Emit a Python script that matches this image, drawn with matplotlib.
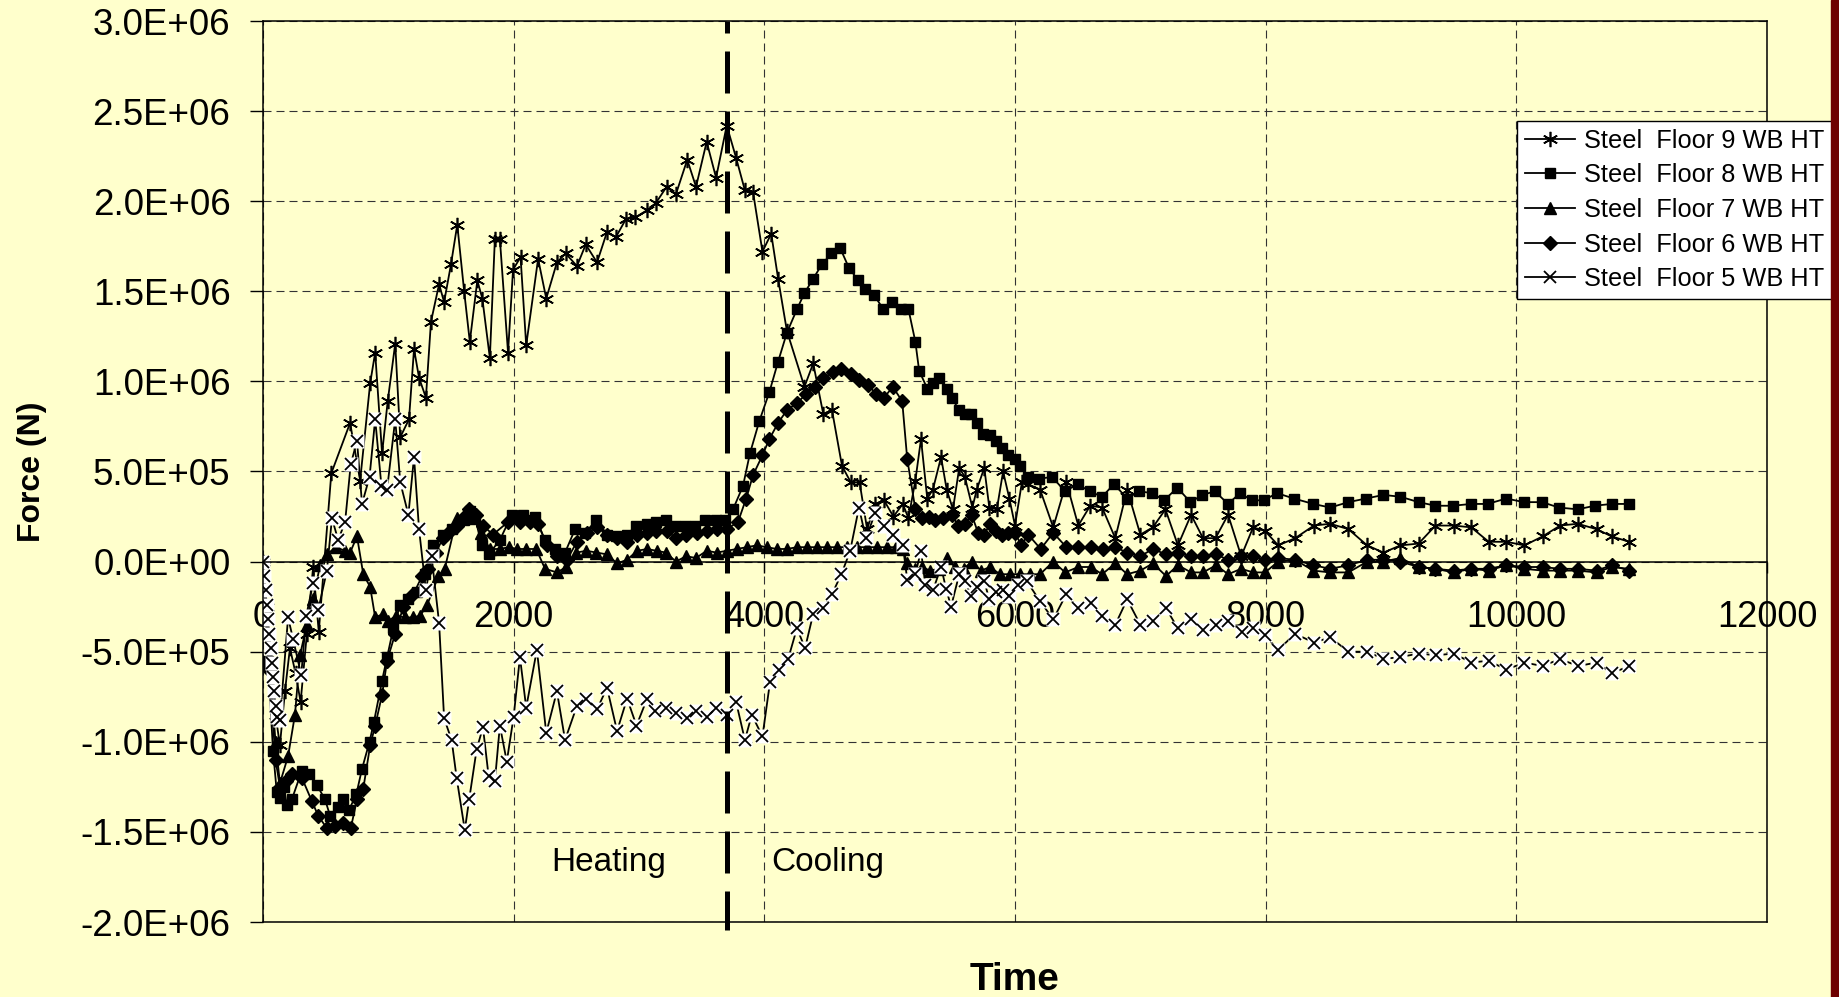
import matplotlib
matplotlib.use("Agg")
import matplotlib.pyplot as plt
from matplotlib.lines import Line2D
from matplotlib.patches import Rectangle

plt.rcParams['font.family'] = ['Liberation Sans', 'DejaVu Sans']

# ---- data (time in s, force in MN) ----
t9 = [0, 30, 60, 100, 135, 175, 215, 260, 300, 350, 400, 445, 545, 695, 775, 855, 895, 950, 995,
      1055, 1095, 1165, 1205, 1245, 1300, 1340, 1405, 1445, 1500, 1550, 1605, 1650, 1710, 1750,
      1810, 1850, 1890, 1955, 1995, 2055, 2100, 2195, 2260, 2345, 2415, 2505, 2575, 2665, 2745,
      2815, 2895, 2970, 3065, 3135, 3220, 3295, 3385, 3455, 3540, 3615, 3700, 3775, 3845, 3910,
      3985, 4055, 4110, 4180, 4320, 4390, 4470, 4540, 4620, 4690, 4760, 4820, 4885, 4955, 5030,
      5105, 5150, 5205, 5250, 5300, 5345, 5410, 5455, 5505, 5555, 5600, 5660, 5695, 5755, 5795,
      5855, 5905, 5955, 6000, 6055, 6105, 6200, 6305, 6410, 6505, 6600, 6695, 6800, 6895, 7000,
      7100, 7200, 7300, 7405, 7500, 7600, 7700, 7805, 7900, 7995, 8100, 8235, 8385, 8515, 8660,
      8810, 8940, 9075, 9220, 9355, 9500, 9640, 9780, 9920, 10065, 10210, 10350, 10490, 10640,
      10760, 10900]
f9 = [0, -0.25, -0.55, -0.85, -1.02, -0.72, -0.48, -0.62, -0.78, -0.40, -0.03, -0.39, 0.49, 0.77,
      0.45, 0.99, 1.16, 0.60, 0.89, 1.21, 0.69, 0.79, 1.18, 1.02, 0.91, 1.33, 1.54, 1.44, 1.65,
      1.87, 1.50, 1.22, 1.56, 1.46, 1.13, 1.79, 1.79, 1.16, 1.62, 1.69, 1.20, 1.68, 1.46, 1.66,
      1.71, 1.64, 1.76, 1.66, 1.83, 1.80, 1.90, 1.91, 1.95, 1.99, 2.08, 2.04, 2.23, 2.08, 2.33,
      2.13, 2.42, 2.24, 2.06, 2.05, 1.72, 1.82, 1.57, 1.28, 0.97, 1.10, 0.82, 0.84, 0.53, 0.44,
      0.44, 0.18, 0.32, 0.34, 0.25, 0.32, 0.24, 0.45, 0.68, 0.35, 0.40, 0.58, 0.40, 0.29, 0.52,
      0.47, 0.30, 0.40, 0.52, 0.30, 0.29, 0.50, 0.35, 0.20, 0.44, 0.43, 0.40, 0.19, 0.44, 0.20,
      0.31, 0.30, 0.13, 0.40, 0.15, 0.19, 0.29, 0.09, 0.26, 0.13, 0.13, 0.26, 0.03, 0.19, 0.17,
      0.09, 0.13, 0.20, 0.21, 0.18, 0.09, 0.05, 0.09, 0.10, 0.20, 0.20, 0.19, 0.11, 0.11, 0.09,
      0.14, 0.20, 0.21, 0.18, 0.14, 0.11]

t8 = [0, 40, 80, 110, 135, 165, 190, 230, 310, 370, 430, 495, 535, 600, 640, 685, 745, 790, 850,
      885, 950, 990, 1040, 1095, 1160, 1230, 1295, 1360, 1435, 1505, 1600, 1650, 1690, 1745, 1800,
      1890, 1985, 2075, 2170, 2250, 2330, 2410, 2490, 2570, 2660, 2745, 2815, 2905, 2980, 3065,
      3135, 3215, 3290, 3370, 3450, 3530, 3615, 3690, 3750, 3830, 3885, 3960, 4040, 4110, 4180,
      4260, 4320, 4390, 4460, 4535, 4605, 4675, 4750, 4805, 4875, 4950, 5020, 5090, 5150, 5205,
      5235, 5300, 5345, 5395, 5455, 5500, 5550, 5600, 5650, 5695, 5745, 5800, 5850, 5895, 5945,
      6000, 6040, 6100, 6195, 6295, 6400, 6500, 6595, 6695, 6790, 6895, 6990, 7095, 7190, 7295,
      7400, 7495, 7595, 7700, 7795, 7890, 7985, 8090, 8225, 8380, 8515, 8660, 8800, 8940, 9075,
      9220, 9355, 9495, 9640, 9770, 9920, 10060, 10205, 10340, 10490, 10625, 10760, 10900]
f8 = [0, -0.55, -1.05, -1.28, -1.31, -1.25, -1.35, -1.32, -1.16, -1.18, -1.24, -1.32, -1.41, -1.36,
      -1.32, -1.38, -1.29, -1.15, -1.00, -0.89, -0.66, -0.53, -0.37, -0.24, -0.21, -0.17, -0.07,
      0.09, 0.15, 0.18, 0.23, 0.28, 0.25, 0.09, 0.04, 0.12, 0.26, 0.26, 0.25, 0.12, 0.07, 0.05,
      0.18, 0.16, 0.23, 0.15, 0.14, 0.15, 0.20, 0.21, 0.22, 0.23, 0.20, 0.20, 0.20, 0.23, 0.23,
      0.23, 0.29, 0.42, 0.60, 0.78, 0.94, 1.11, 1.27, 1.40, 1.49, 1.57, 1.65, 1.71, 1.74, 1.63,
      1.56, 1.51, 1.48, 1.40, 1.44, 1.40, 1.40, 1.22, 1.06, 0.96, 0.99, 1.02, 0.96, 0.91, 0.84,
      0.82, 0.82, 0.77, 0.71, 0.70, 0.67, 0.63, 0.59, 0.57, 0.53, 0.47, 0.46, 0.47, 0.39, 0.43,
      0.39, 0.36, 0.43, 0.35, 0.39, 0.38, 0.34, 0.41, 0.33, 0.37, 0.39, 0.32, 0.38, 0.34, 0.34,
      0.38, 0.35, 0.32, 0.30, 0.33, 0.35, 0.37, 0.36, 0.33, 0.31, 0.31, 0.32, 0.32, 0.35, 0.33,
      0.33, 0.30, 0.29, 0.31, 0.32, 0.32]

t7 = [0, 50, 100, 135, 200, 255, 295, 350, 400, 455, 510, 580, 655, 695, 750, 800, 855, 895, 960,
      1000, 1060, 1130, 1195, 1255, 1310, 1400, 1450, 1545, 1635, 1690, 1740, 1810, 1890, 1960,
      2030, 2100, 2180, 2250, 2345, 2420, 2500, 2580, 2660, 2745, 2825, 2905, 2985, 3065, 3140,
      3215, 3295, 3375, 3455, 3540, 3620, 3700, 3780, 3860, 3940, 4020, 4100, 4180, 4260, 4340,
      4420, 4500, 4580, 4660, 4740, 4820, 4900, 4980, 5050, 5105, 5140, 5200, 5260, 5320, 5390,
      5455, 5520, 5590, 5655, 5730, 5800, 5880, 5960, 6040, 6120, 6200, 6305, 6400, 6505, 6605,
      6695, 6800, 6895, 7000, 7100, 7205, 7300, 7405, 7500, 7605, 7700, 7805, 7900, 7995, 8100,
      8235, 8380, 8515, 8660, 8810, 8940, 9075, 9220, 9355, 9500, 9640, 9780, 9920, 10065, 10210,
      10350, 10490, 10640, 10760, 10900]
f7 = [0, -0.55, -1.00, -1.23, -1.08, -0.85, -0.52, -0.35, -0.21, -0.02, 0.04, 0.08, 0.06, 0.05,
      0.14, -0.07, -0.14, -0.31, -0.29, -0.33, -0.30, -0.31, -0.31, -0.30, -0.24, -0.08, -0.04,
      0.24, 0.28, 0.24, 0.16, 0.07, 0.07, 0.08, 0.07, 0.07, 0.07, -0.04, -0.06, -0.03, 0.05, 0.06,
      0.05, 0.04, -0.01, 0.01, 0.06, 0.07, 0.06, 0.05, 0.00, 0.03, 0.02, 0.06, 0.05, 0.06, 0.07,
      0.08, 0.09, 0.08, 0.07, 0.07, 0.08, 0.08, 0.08, 0.08, 0.08, 0.08, 0.08, 0.08, 0.08, 0.08,
      0.08, 0.07, -0.01, -0.04, -0.03, -0.05, -0.04, 0.02, -0.03, -0.04, 0.00, -0.05, -0.03, -0.07,
      -0.07, -0.07, -0.07, -0.07, 0.00, -0.06, -0.03, -0.03, -0.07, -0.01, -0.07, -0.05, -0.01,
      -0.08, -0.02, -0.06, -0.06, -0.02, -0.07, -0.04, -0.06, -0.06, 0.00, 0.01, -0.05, -0.06,
      -0.06, 0.00, 0.00, 0.02, -0.03, -0.04, -0.06, -0.04, -0.05, -0.02, -0.04, -0.05, -0.05,
      -0.05, -0.06, -0.03, -0.04]

t6 = [0, 50, 100, 135, 180, 230, 310, 390, 440, 510, 575, 640, 700, 750, 800, 855, 895, 950, 990,
      1055, 1120, 1200, 1270, 1320, 1380, 1435, 1490, 1545, 1600, 1645, 1700, 1755, 1835, 1955,
      2050, 2130, 2195, 2265, 2345, 2425, 2505, 2585, 2665, 2745, 2825, 2905, 2985, 3065, 3135,
      3225, 3295, 3375, 3465, 3545, 3625, 3700, 3790, 3855, 3910, 3985, 4040, 4110, 4180, 4260,
      4335, 4405, 4470, 4550, 4615, 4690, 4755, 4830, 4890, 4955, 5025, 5100, 5140, 5205, 5260,
      5310, 5365, 5425, 5500, 5545, 5600, 5655, 5705, 5755, 5800, 5850, 5895, 5945, 6000, 6050,
      6105, 6205, 6305, 6410, 6505, 6605, 6700, 6800, 6895, 7000, 7100, 7205, 7300, 7405, 7500,
      7605, 7700, 7805, 7900, 7995, 8100, 8235, 8380, 8515, 8660, 8810, 8940, 9075, 9220, 9355,
      9500, 9640, 9780, 9920, 10065, 10210, 10350, 10490, 10640, 10760, 10900]
f6 = [0, -0.60, -1.10, -1.25, -1.22, -1.18, -1.20, -1.33, -1.41, -1.48, -1.47, -1.45, -1.48,
      -1.32, -1.26, -1.02, -0.91, -0.74, -0.55, -0.40, -0.25, -0.18, -0.08, -0.04, 0.05, 0.13,
      0.17, 0.20, 0.25, 0.29, 0.26, 0.20, 0.15, 0.22, 0.22, 0.22, 0.21, 0.09, 0.03, 0.01, 0.11,
      0.16, 0.19, 0.15, 0.13, 0.11, 0.15, 0.16, 0.17, 0.17, 0.13, 0.15, 0.16, 0.17, 0.18, 0.18,
      0.22, 0.35, 0.48, 0.59, 0.68, 0.77, 0.84, 0.88, 0.93, 0.97, 1.02, 1.05, 1.07, 1.04, 1.01,
      0.98, 0.93, 0.91, 0.97, 0.89, 0.57, 0.29, 0.24, 0.25, 0.23, 0.24, 0.26, 0.20, 0.21, 0.26,
      0.16, 0.15, 0.21, 0.17, 0.15, 0.16, 0.16, 0.09, 0.15, 0.07, 0.16, 0.08, 0.08, 0.08, 0.07,
      0.08, 0.05, 0.03, 0.07, 0.04, 0.05, 0.03, 0.03, 0.04, 0.01, 0.03, 0.03, 0.01, 0.02, 0.01,
      -0.02, -0.04, -0.02, 0.01, 0.01, 0.00, -0.03, -0.04, -0.05, -0.04, -0.04, -0.02, -0.03,
      -0.03, -0.04, -0.04, -0.05, -0.02, -0.05]

t5 = [0, 10, 20, 30, 40, 50, 60, 70, 80, 90, 100, 110, 135, 200, 240, 305, 345, 400, 440, 510,
      550, 600, 655, 700, 750, 790, 850, 895, 945, 990, 1055, 1095, 1160, 1205, 1245, 1300, 1345,
      1405, 1445, 1505, 1545, 1610, 1645, 1705, 1755, 1800, 1850, 1890, 1945, 2000, 2050, 2100,
      2185, 2260, 2345, 2410, 2505, 2575, 2665, 2745, 2825, 2905, 2980, 3065, 3130, 3215, 3295,
      3380, 3455, 3540, 3615, 3700, 3775, 3845, 3900, 3985, 4045, 4120, 4190, 4260, 4325, 4390,
      4470, 4540, 4615, 4685, 4755, 4810, 4885, 4955, 5030, 5105, 5140, 5205, 5250, 5285, 5345,
      5410, 5450, 5490, 5555, 5600, 5650, 5700, 5755, 5795, 5850, 5905, 5955, 6020, 6095, 6200,
      6305, 6410, 6505, 6605, 6695, 6800, 6895, 7000, 7100, 7205, 7300, 7405, 7500, 7605, 7700,
      7810, 7900, 7995, 8100, 8235, 8385, 8515, 8660, 8810, 8940, 9075, 9220, 9360, 9500, 9640,
      9780, 9920, 10065, 10210, 10350, 10490, 10640, 10760, 10900]
f5 = [0, -0.08, -0.16, -0.24, -0.32, -0.40, -0.48, -0.56, -0.64, -0.72, -0.80, -0.86, -0.88,
      -0.31, -0.43, -0.63, -0.30, -0.12, -0.27, -0.05, 0.24, 0.12, 0.22, 0.54, 0.67, 0.32, 0.47,
      0.79, 0.42, 0.40, 0.79, 0.44, 0.26, 0.58, 0.18, -0.16, 0.03, -0.34, -0.87, -0.99, -1.20,
      -1.49, -1.32, -1.04, -0.92, -1.19, -1.22, -0.91, -1.11, -0.86, -0.53, -0.81, -0.49, -0.95,
      -0.72, -0.99, -0.80, -0.76, -0.82, -0.70, -0.94, -0.76, -0.91, -0.76, -0.83, -0.81, -0.84,
      -0.87, -0.83, -0.86, -0.81, -0.85, -0.78, -0.99, -0.85, -0.97, -0.67, -0.60, -0.54, -0.37,
      -0.48, -0.29, -0.26, -0.18, -0.07, 0.06, 0.30, 0.13, 0.27, 0.20, 0.15, 0.09, -0.10, -0.07,
      0.06, -0.13, -0.16, -0.03, -0.15, -0.25, -0.07, -0.11, -0.19, -0.14, -0.11, -0.21, -0.17,
      -0.16, -0.19, -0.13, -0.11, -0.22, -0.32, -0.18, -0.26, -0.23, -0.30, -0.35, -0.21, -0.35,
      -0.33, -0.26, -0.37, -0.32, -0.38, -0.35, -0.33, -0.39, -0.37, -0.41, -0.49, -0.40, -0.45,
      -0.42, -0.50, -0.50, -0.54, -0.53, -0.51, -0.52, -0.51, -0.56, -0.55, -0.60, -0.56, -0.58,
      -0.54, -0.58, -0.56, -0.62, -0.58]

labels = ["Steel  Floor 9 WB HT", "Steel  Floor 8 WB HT", "Steel  Floor 7 WB HT",
          "Steel  Floor 6 WB HT", "Steel  Floor 5 WB HT"]
y_ticks = [-2.0e6, -1.5e6, -1.0e6, -0.5e6, 0.0, 0.5e6, 1.0e6, 1.5e6, 2.0e6, 2.5e6, 3.0e6]
x_ticks = [0, 2000, 4000, 6000, 8000, 10000, 12000]
phase_change = 3700

bg = '#FFFFCC'
MN = 1e6

fig = plt.figure(figsize=(18.4, 9.97), dpi=100, facecolor=bg)
ax = fig.add_axes([263 / 1840, 75 / 997, 1504 / 1840, 901 / 997])
ax.set_facecolor(bg)

lw = 1.3
kw = dict(color='black', lw=lw)
l9, = ax.plot(t9, [v * MN for v in f9], marker=(6, 2, 0), ms=11, mew=1.2, **kw)
l8, = ax.plot(t8, [v * MN for v in f8], marker='s', ms=7.5, **kw)
l7, = ax.plot(t7, [v * MN for v in f7], marker='^', ms=8.5, **kw)
l6, = ax.plot(t6, [v * MN for v in f6], marker='D', ms=6.8, **kw)
# floor 5: x markers on small white boxes (Excel style)
ax.plot(t5, [v * MN for v in f5], marker='s', ms=10.5, mfc='white', mec='none', **kw)
ax.plot(t5, [v * MN for v in f5], ls='none', marker='x', ms=8, mew=1.3, color='black')
l5 = Line2D([], [], marker='x', ms=8, mew=1.3, **kw)

# heating / cooling divider
ax.plot([phase_change, phase_change], [3.0e6, -2.045e6], color='black', lw=3.6,
        ls=(6, (8.4, 3.6)), clip_on=False, zorder=5)
ax.text(2760, -1.67e6, 'Heating', fontsize=24, ha='center', va='center')
ax.text(4508, -1.67e6, 'Cooling', fontsize=24, ha='center', va='center')

ax.set_xlim(0, 12000)
ax.set_ylim(-2.0e6, 3.0e6)
ax.set_xticks(x_ticks)
ax.set_xticklabels([str(v) for v in x_ticks])
ax.set_yticks(y_ticks)
ax.set_yticklabels(['{:.1E}'.format(v) for v in y_ticks])

ax.grid(True, color='#333333', lw=0.8, ls=(0, (7.2, 4.5)))
ax.set_axisbelow(True)

for s in ax.spines.values():
    s.set_linewidth(1.1)
ax.spines['bottom'].set_position(('data', 0))
ax.axhline(-2.0e6, color='black', lw=1.1, clip_on=False)

ax.tick_params(axis='y', direction='out', length=9.4, width=1.0, pad=14, labelsize=26.5)
ax.tick_params(axis='x', direction='out', length=8, width=1.0, pad=20, labelsize=26)

ax.set_ylabel('Force (N)', fontsize=23, fontweight='bold', va='center')
ax.yaxis.set_label_coords(-0.1536, 0.5)
ax.set_xlabel('Time', fontsize=28, fontweight='bold', va='center')
ax.xaxis.set_label_coords(0.5, -0.0644)

leg = fig.legend([l9, l8, l7, l6, l5], labels, loc='upper left',
                 bbox_to_anchor=(1517 / 1840, 1 - 121 / 997), fontsize=18.3,
                 frameon=True, fancybox=False, framealpha=1, edgecolor='black',
                 handlelength=2.0, handletextpad=0.35, borderpad=0.3, labelspacing=0.42,
                 borderaxespad=0)
leg.get_frame().set_linewidth(1.0)

fig.patches.append(Rectangle((1831 / 1840, 0), 9 / 1840, 1, transform=fig.transFigure,
                             color='#6E0000', zorder=10))

fig.savefig('out.png', dpi=100, facecolor=bg)
